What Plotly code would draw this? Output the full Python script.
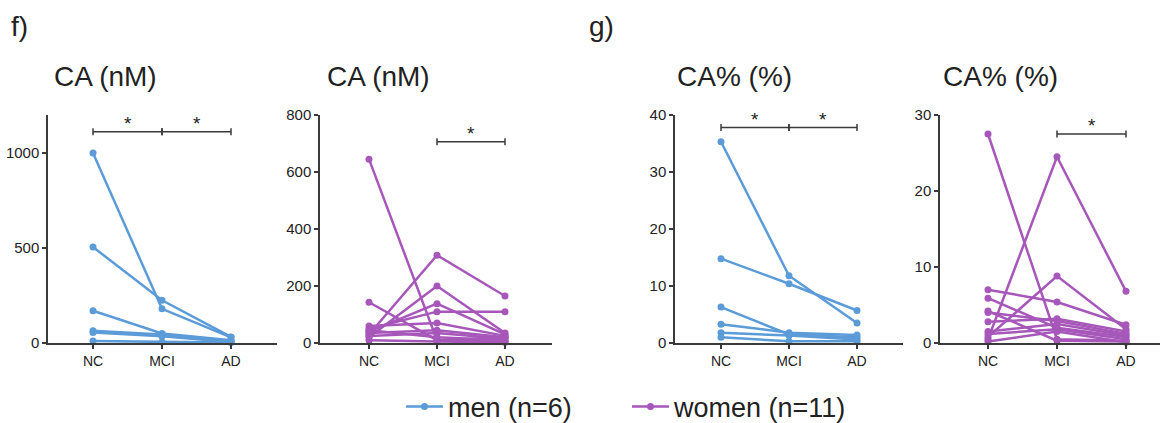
import plotly.graph_objects as go

# ---------------- data ----------------
categories = ["NC", "MCI", "AD"]

# Panel f (left): CA (nM), men
ca_nm_men = [
    [1000, 180, 30],
    [505, 225, 32],
    [170, 50, 15],
    [65, 45, 10],
    [55, 35, 5],
    [10, 5, 2],
]
# Panel f (right): CA (nM), women
ca_nm_women = [
    [645, 10, 20],
    [143, 10, 5],
    [30, 308, 165],
    [20, 200, 35],
    [40, 138, 30],
    [50, 110, 110],
    [60, 70, 25],
    [35, 45, 20],
    [25, 35, 15],
    [45, 20, 10],
    [10, 5, 3],
]
# Panel g (left): CA% (%), men
ca_pct_men = [
    [35.3, 11.8, 3.5],
    [14.8, 10.4, 5.7],
    [6.3, 1.5, 1.0],
    [3.3, 1.8, 1.4],
    [1.8, 1.3, 0.6],
    [1.0, 0.3, 0.3],
]
# Panel g (right): CA% (%), women
ca_pct_women = [
    [27.5, 0.5, 0.3],
    [0.5, 24.5, 6.8],
    [0.8, 8.8, 1.8],
    [7.0, 5.4, 2.4],
    [5.9, 2.0, 0.8],
    [4.2, 0.3, 0.2],
    [4.0, 2.9, 1.2],
    [2.8, 3.2, 1.5],
    [1.5, 2.5, 1.0],
    [1.2, 1.8, 0.5],
    [0.2, 1.5, 0.1],
]

panel_titles = ["CA (nM)", "CA (nM)", "CA% (%)", "CA% (%)"]
y_max = [1200, 800, 40, 30]
y_ticks = [[0, 500, 1000], [0, 200, 400, 600, 800], [0, 10, 20, 30, 40], [0, 10, 20, 30]]
# significance brackets: (from category index, to category index, y level)
brackets = [
    [(0, 1, 1112), (1, 2, 1112)],
    [(1, 2, 706)],
    [(0, 1, 37.8), (1, 2, 37.8)],
    [(1, 2, 27.5)],
]
legend_names = ["men (n=6)", "women (n=11)"]

# ---------------- style / layout ----------------
# figure is a little taller than the 423 px window so the legend box never pushes the margins
W, H = 1164, 445
BLUE = "#5B9BD8"
PURPLE = "#A657B9"
AXIS = "#3a3a3a"
TEXT = "#222222"

# screen-pixel geometry: x-axis left/right, pixel x of NC, spacing between categories
px_x = [(48, 277, 93, 69), (320, 552, 369, 68), (675, 903, 721, 68), (940, 1160, 988, 69)]
y_bottom_px, y_top_px = 343, 115
title_x_px = [52, 325, 675, 941]


def fx(p):
    return p / W


def fy(p):
    return 1 - p / H


panels = [
    (ca_nm_men, BLUE, 0),
    (ca_nm_women, PURPLE, 1),
    (ca_pct_men, BLUE, 0),
    (ca_pct_women, PURPLE, 1),
]

fig = go.Figure()
legend_done = set()
for i, (series, color, g) in enumerate(panels):
    ax = "" if i == 0 else str(i + 1)
    for row in series:
        show = g not in legend_done
        legend_done.add(g)
        fig.add_trace(go.Scatter(
            x=categories, y=row, mode="lines+markers",
            line=dict(color=color, width=2.5),
            marker=dict(color=color, size=7),
            name=legend_names[g], legendgroup=legend_names[g], showlegend=show,
            xaxis="x" + ax, yaxis="y" + ax, cliponaxis=False,
        ))

layout = dict(
    width=W, height=H, margin=dict(l=0, r=0, t=0, b=0),
    paper_bgcolor="white", plot_bgcolor="white",
    font=dict(family="Liberation Sans, Arial, sans-serif", color=TEXT),
    showlegend=True,
    legend=dict(orientation="h", x=fx(405 - 4), xanchor="left", y=fy(407), yanchor="middle",
                font=dict(size=27, color=TEXT), entrywidth=174, entrywidthmode="pixels",
                itemwidth=37, bgcolor="rgba(0,0,0,0)"),
)
shapes = []
annotations = []
for i in range(4):
    ax = "" if i == 0 else str(i + 1)
    left, right, nc, sp = px_x[i]
    r0 = (left - nc) / sp
    r1 = (right - nc) / sp
    layout["xaxis" + ax] = dict(
        domain=[fx(left), fx(right)], range=[r0, r1], anchor="y" + ax,
        type="category", categoryorder="array", categoryarray=categories,
        showline=True, linecolor=AXIS, linewidth=1.5, showgrid=False, zeroline=False,
        ticks="outside", ticklen=4, tickwidth=1.5, tickcolor=AXIS,
        tickfont=dict(size=14, color=TEXT), fixedrange=True, automargin=False,
    )
    layout["yaxis" + ax] = dict(
        domain=[fy(y_bottom_px), fy(y_top_px)], range=[0, y_max[i]], anchor="x" + ax,
        showline=True, linecolor=AXIS, linewidth=1.5, showgrid=False, zeroline=False,
        tickvals=y_ticks[i], ticks="outside", ticklen=4, tickwidth=1.5, tickcolor=AXIS,
        tickfont=dict(size=15, color=TEXT), fixedrange=True, automargin=False,
    )
    # brackets
    half = y_max[i] / (y_bottom_px - y_top_px) * 3.5
    for (a, b, yv) in brackets[i]:
        shapes.append(dict(type="line", xref="x" + ax, yref="y" + ax, x0=a, x1=b, y0=yv, y1=yv,
                           line=dict(color=AXIS, width=1.5)))
        for xe in (a, b):
            shapes.append(dict(type="line", xref="x" + ax, yref="y" + ax, x0=xe, x1=xe,
                               y0=yv - half, y1=yv + half, line=dict(color=AXIS, width=1.5)))
        annotations.append(dict(text="*", xref="x" + ax, yref="y" + ax, x=(a + b) / 2, y=yv,
                                yanchor="bottom", yshift=-4, showarrow=False,
                                font=dict(size=19, color=TEXT)))
    annotations.append(dict(text=panel_titles[i], xref="paper", yref="paper",
                            x=fx(title_x_px[i]), y=fy(77), xanchor="left", yanchor="middle",
                            showarrow=False, font=dict(size=28, color=TEXT)))

annotations.append(dict(text="f)", xref="paper", yref="paper", x=fx(9), y=fy(27),
                        xanchor="left", yanchor="middle", showarrow=False,
                        font=dict(size=28, color=TEXT)))
annotations.append(dict(text="g)", xref="paper", yref="paper", x=fx(587), y=fy(27),
                        xanchor="left", yanchor="middle", showarrow=False,
                        font=dict(size=28, color=TEXT)))
layout["shapes"] = shapes
layout["annotations"] = annotations
fig.update_layout(**layout)
# remove the default page margin so the figure sits at the window's top-left corner
fig.write_html("out.html", config={"displayModeBar": False},
               post_script="document.body.style.margin='0px';document.body.style.overflow='hidden';")
